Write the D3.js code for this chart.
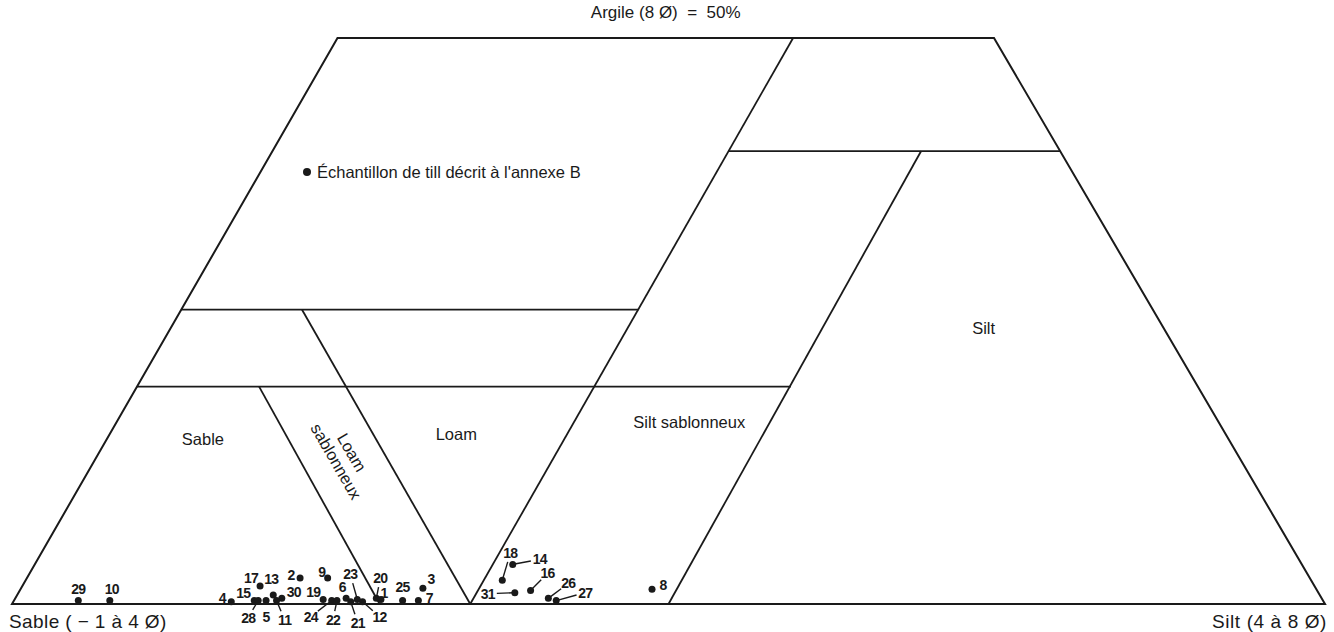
<!DOCTYPE html>
<html>
<head>
<meta charset="utf-8">
<script src="https://cdn.jsdelivr.net/npm/d3@7"></script>
<style>
  html, body { margin: 0; padding: 0; background: #fff; }
  svg { display: block; }
  text { white-space: pre; }
</style>
</head>
<body>
<div id="chart"></div>
<script>
// Sample numbers and their composition (% silt, % clay; sand = the rest)
const sampleIds = ["29","10","4","15","17","13","2","9","30","19","6","23","20","1","25","3","7",
                   "28","5","11","24","22","21","12","18","14","16","31","26","27","8"];
const siltPct  = [4.9, 7.3, 16.6, 18.3, 18.1, 19.5, 20.8, 22.9, 20.3, 23.5, 25.2, 26.1, 27.5, 27.9, 29.6, 30.6, 30.8,
                  18.6, 19.2, 20.0, 24.2, 24.6, 25.7, 26.6, 36.3, 36.4, 38.9, 37.8, 40.6, 41.3, 48.1];
const clayPct  = [0.3, 0.3, 0.2, 0.3, 1.6, 0.8, 2.3, 2.3, 0.5, 0.4, 0.5, 0.4, 0.5, 0.4, 0.3, 1.4, 0.3,
                  0.3, 0.3, 0.3, 0.3, 0.3, 0.2, 0.2, 2.1, 3.5, 1.2, 1.0, 0.5, 0.3, 1.3];

// Outline of the diagram (silt, clay), truncated at 50 % clay
const outline = [[0, 0], [100, 0], [50, 50], [0, 50]];

// Class boundaries: [silt, clay] -> [silt, clay]
const dividers = [
  [[34.7, 40], [60, 40]],
  [[0, 26], [34.8, 26]],
  [[0, 19.2], [49.8, 19.2]],
  [[34.7, 50], [34.9, 0]],
  [[49.4, 40], [50, 0]],
  [[9.2, 26], [34.9, 0]],
  [[9.3, 19.2], [28, 0]]
];

// Class names and where they sit (silt, clay)
const classNames = ["Sable", "Loam", "Silt sablonneux", "Silt"];
const classPos   = [[7.3, 14.6], [26.4, 15.0], [43.6, 16.1], [61.9, 24.4]];

const width = 1334, height = 632;
const apexShare = 0.4958; // where the (virtual) clay apex sits along the base

const u = d3.scaleLinear().domain([0, 100]).range([12, 1325]);
const v = d3.scaleLinear().domain([0, 100]).range([604, 604 - 1132]);
const project = (silt, clay) => [u(silt + clay * apexShare), v(clay)];

const svg = d3.select("#chart").append("svg")
  .attr("width", width)
  .attr("height", height)
  .attr("viewBox", `0 0 ${width} ${height}`);

const font = "'Liberation Sans', Arial, Helvetica, sans-serif";
const ink = "#1a1a1a";

// Contour
svg.append("path")
  .attr("d", d3.line()(outline.map(p => project(p[0], p[1]))) + "Z")
  .attr("fill", "none")
  .attr("stroke", ink)
  .attr("stroke-width", 2)
  .attr("stroke-linejoin", "miter");

// Boundaries between classes
svg.selectAll(".divider")
  .data(dividers)
  .enter()
  .append("line")
  .attr("class", "divider")
  .attr("x1", d => project(...d[0])[0])
  .attr("y1", d => project(...d[0])[1])
  .attr("x2", d => project(...d[1])[0])
  .attr("y2", d => project(...d[1])[1])
  .attr("stroke", ink)
  .attr("stroke-width", 1.8);

// Class labels
svg.selectAll(".cls")
  .data(classNames)
  .enter()
  .append("text")
  .attr("class", "cls")
  .attr("x", (d, i) => project(...classPos[i])[0])
  .attr("y", (d, i) => project(...classPos[i])[1])
  .attr("text-anchor", "middle")
  .attr("dominant-baseline", "central")
  .attr("font-family", font)
  .attr("font-size", "16.5px")
  .attr("fill", ink)
  .text(d => d);

// "Loam sablonneux", rotated along the band
const lsPos = project(18.85, 13.0);
const lsText = svg.append("text")
  .attr("transform", `translate(${lsPos[0]},${lsPos[1]}) rotate(60)`)
  .attr("text-anchor", "middle")
  .attr("font-family", font)
  .attr("font-size", "16.5px")
  .attr("fill", ink);
lsText.append("tspan").attr("x", 0).attr("y", -3).text("Loam");
lsText.append("tspan").attr("x", 0).attr("y", 15).text("sablonneux");

// Corner and top captions
const topPos = project(25, 50);
svg.append("text")
  .attr("x", topPos[0]).attr("y", topPos[1] - 20)
  .attr("text-anchor", "middle")
  .attr("font-family", font).attr("font-size", "17px").attr("fill", ink)
  .text("Argile (8 Ø)  =  50%");

const leftPos = project(0, 0);
svg.append("text")
  .attr("x", leftPos[0] - 3).attr("y", leftPos[1] + 24)
  .attr("font-family", font).attr("font-size", "19px").attr("letter-spacing", "0.4").attr("fill", ink)
  .text("Sable ( − 1 à 4 Ø)");

const rightPos = project(100, 0);
svg.append("text")
  .attr("x", rightPos[0] + 2).attr("y", rightPos[1] + 24)
  .attr("text-anchor", "end")
  .attr("font-family", font).attr("font-size", "19px").attr("letter-spacing", "0.6").attr("fill", ink)
  .text("Silt (4 à 8 Ø)");

// Legend
const legend = svg.append("g").attr("transform", "translate(307,172)");
legend.append("circle").attr("r", 4).attr("fill", ink);
legend.append("text")
  .attr("x", 10).attr("y", 0)
  .attr("dominant-baseline", "central")
  .attr("font-family", font).attr("font-size", "16.5px").attr("fill", ink)
  .text("Échantillon de till décrit à l'annexe B");

// Label placement for each sample: [dx, dy, leader]
const labelOffsets = {
  "29": [0, -12], "10": [2, -12], "4": [-9, -4], "15": [-11, -8], "17": [-9, -8],
  "13": [-2, -16], "2": [-9, -3], "9": [-6, -6], "30": [12, -6], "19": [-10, -7],
  "6": [-4, -11], "23": [-7, -25, true], "20": [4, -20, true], "1": [3, -6],
  "25": [0, -14], "3": [8, -9], "7": [11, -3],
  "28": [-10, 17, true], "5": [0, 16], "11": [8, 19, true], "24": [-21, 16, true],
  "22": [-4, 19, true], "21": [7, 21, true], "12": [17, 15, true],
  "18": [8, -27, true], "14": [27, -5, true], "16": [17, -17, true],
  "31": [-27, 1, true], "26": [20, -15, true], "27": [29, -8, true], "8": [11, -4]
};

const samples = sampleIds.map((id, i) => {
  const [x, y] = project(siltPct[i], clayPct[i]);
  const off = labelOffsets[id];
  return { id, x, y, lx: x + off[0], ly: y + off[1], leader: !!off[2] };
});

// Leader lines
svg.selectAll(".leader")
  .data(samples.filter(d => d.leader))
  .enter()
  .append("line")
  .attr("class", "leader")
  .each(function(d) {
    const dx = d.x - d.lx, dy = d.y - d.ly;
    const len = Math.hypot(dx, dy);
    const ux = dx / len, uy = dy / len;
    const r0 = Math.min(9, len * 0.45);
    d3.select(this)
      .attr("x1", d.lx + ux * r0).attr("y1", d.ly + uy * r0)
      .attr("x2", d.x - ux * 2).attr("y2", d.y - uy * 2);
  })
  .attr("stroke", ink)
  .attr("stroke-width", 1.4);

// Sample dots
svg.selectAll(".dot")
  .data(samples)
  .enter()
  .append("circle")
  .attr("class", "dot")
  .attr("cx", d => d.x)
  .attr("cy", d => d.y)
  .attr("r", 3.5)
  .attr("fill", ink);

// Sample numbers
svg.selectAll(".num")
  .data(samples)
  .enter()
  .append("text")
  .attr("class", "num")
  .attr("x", d => d.lx)
  .attr("y", d => d.ly)
  .attr("text-anchor", "middle")
  .attr("dominant-baseline", "central")
  .attr("font-family", "'Liberation Sans Narrow', 'Liberation Sans', Arial, sans-serif")
  .attr("font-weight", "bold")
  .attr("font-size", "14px")
  .attr("letter-spacing", "-0.8")
  .attr("fill", ink)
  .text(d => d.id);
</script>
</body>
</html>
